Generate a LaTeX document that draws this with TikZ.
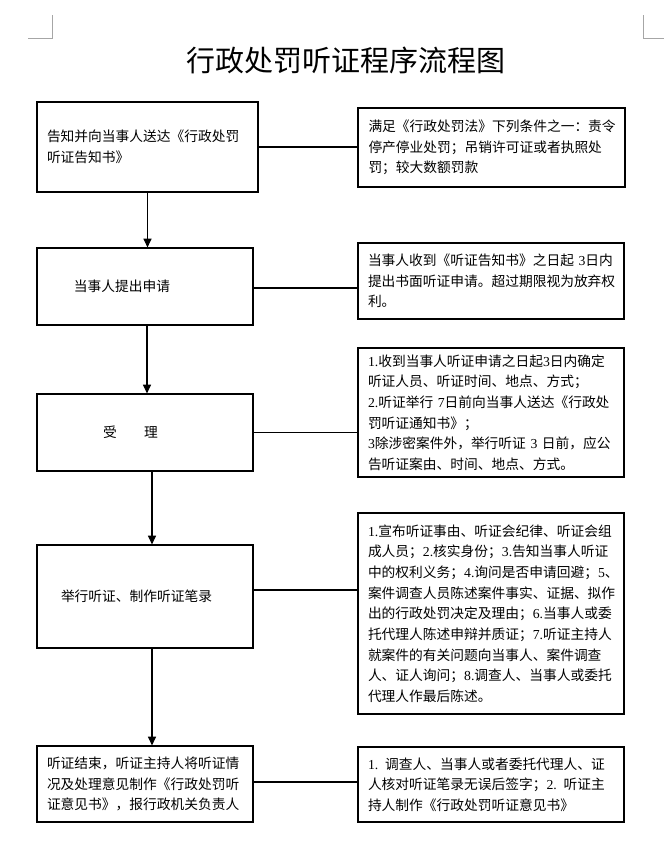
\documentclass[tikz,border=0pt]{standalone}
\usepackage{fontspec}
\setmainfont{Noto Sans CJK SC}
\newfontfamily\lat{Liberation Serif}
\newcommand\dg[1]{{\lat #1}}
\newcommand\txtline[1]{\mbox{#1}}
\usetikzlibrary{arrows.meta}
\tikzset{
  box/.style={draw, line width=0.9pt, align=left, inner sep=0pt,
    font=\fontsize{10.3pt}{15.5pt}\selectfont},
  lbox/.style={box, minimum width=162pt, text width=147pt},
  rbox/.style={box, minimum width=199.5pt, text width=184.5pt},
  arr/.style={line width=0.8pt, -{Triangle[width=6pt,length=6.5pt]}},
  link/.style={line width=0.8pt},
  cornermark/.style={draw=black!35, line width=0.75pt},
  titletext/.style={font=\fontsize{21.75pt}{26pt}\selectfont}
}
\begin{document}
\begin{tikzpicture}[x=0.75pt,y=-0.75pt]
\useasboundingbox (0,0) rectangle (664,858);
% corner marks
\draw[cornermark] (28,38) -- (52,38) -- (52,15);
\draw[cornermark] (664,38) -- (643,38) -- (643,15);
% title
\node[titletext] (title) at (346,60) {行政处罚听证程序流程图};
% left column
\node[box, minimum width=165.75pt, text width=150.75pt, minimum height=67.5pt] (L1) at (147.5,147)
  {\txtline{告知并向当事人送达《行政处罚}\\\txtline{听证告知书》}};
\node[lbox, minimum height=57.75pt] (L2) at (145,286.5)
  {\hspace*{20.25pt}\txtline{当事人提出申请}};
\node[lbox, minimum height=57.75pt] (L3) at (145,432.5)
  {\hspace*{42pt}\txtline{受　　理}};
\node[lbox, minimum height=77.25pt] (L4) at (145,596.5)
  {\hspace*{10.5pt}\txtline{举行听证、制作听证笔录}};
\node[lbox, minimum height=57pt] (L5) at (145,784)
  {\txtline{听证结束，听证主持人将听证情}\\\txtline{况及处理意见制作《行政处罚听}\\\txtline{证意见书》，报行政机关负责人}};
% right column
\node[box, minimum width=200.25pt, text width=184.5pt, minimum height=59.25pt] (R1) at (491.5,147.5)
  {\txtline{满足《行政处罚法》下列条件之一：责令}\\\txtline{停产停业处罚；吊销许可证或者执照处}\\\txtline{罚；较大数额罚款}};
\node[rbox, minimum height=57pt] (R2) at (491,281)
  {\txtline{当事人收到《听证告知书》之日起 \dg{3}日内}\\\txtline{提出书面听证申请。超过期限视为放弃权}\\\txtline{利。}};
\node[rbox, minimum height=96.75pt] (R3) at (491,412.5)
  {\txtline{\dg{1.}收到当事人听证申请之日起\dg{3}日内确定}\\\txtline{听证人员、听证时间、地点、方式；}\\\txtline{\dg{2.}听证举行 \dg{7}日前向当事人送达《行政处}\\\txtline{罚听证通知书》；}\\\txtline{\dg{3}除涉密案件外，举行听证 \dg{3} 日前，应公}\\\txtline{告听证案由、时间、地点、方式。}};
\node[rbox, minimum height=150.75pt] (R4) at (491,613.5)
  {\txtline{\dg{1.}宣布听证事由、听证会纪律、听证会组}\\\txtline{成人员；\dg{2.}核实身份；\dg{3.}告知当事人听证}\\\txtline{中的权利义务；\dg{4.}询问是否申请回避；\dg{5}、}\\\txtline{案件调查人员陈述案件事实、证据、拟作}\\\txtline{出的行政处罚决定及理由；\dg{6.}当事人或委}\\\txtline{托代理人陈述申辩并质证；\dg{7.}听证主持人}\\\txtline{就案件的有关问题向当事人、案件调查}\\\txtline{人、证人询问；\dg{8.}调查人、当事人或委托}\\\txtline{代理人作最后陈述。}};
\node[rbox, minimum height=56.25pt] (R5) at (491,784.5)
  {\txtline{\dg{1.} 调查人、当事人或者委托代理人、证}\\\txtline{人核对听证笔录无误后签字；\dg{2.} 听证主}\\\txtline{持人制作《行政处罚听证意见书》}};
% connectors
\draw[link] (L1.east) -- (L1.east -| R1.west);
\draw[link] ([yshift=-1.1pt]L2.east) -- ([yshift=-1.1pt]L2.east -| R2.west);
\draw[link] (L3.east) -- (L3.east -| R3.west);
\draw[link] ([yshift=4.9pt]L4.east) -- ([yshift=4.9pt]L4.east -| R4.west);
\draw[link] ([yshift=1.5pt]L5.east) -- ([yshift=1.5pt]L5.east -| R5.west);
% arrows
\draw[arr] (L1.south) -- (L1.south |- L2.north);
\draw[arr] ([xshift=1.5pt]L2.south) -- ([xshift=1.5pt]L2.south |- L3.north);
\draw[arr] ([xshift=5.25pt]L3.south) -- ([xshift=5.25pt]L3.south |- L4.north);
\draw[arr] ([xshift=5.25pt]L4.south) -- ([xshift=5.25pt]L4.south |- L5.north);
\end{tikzpicture}
\end{document}
